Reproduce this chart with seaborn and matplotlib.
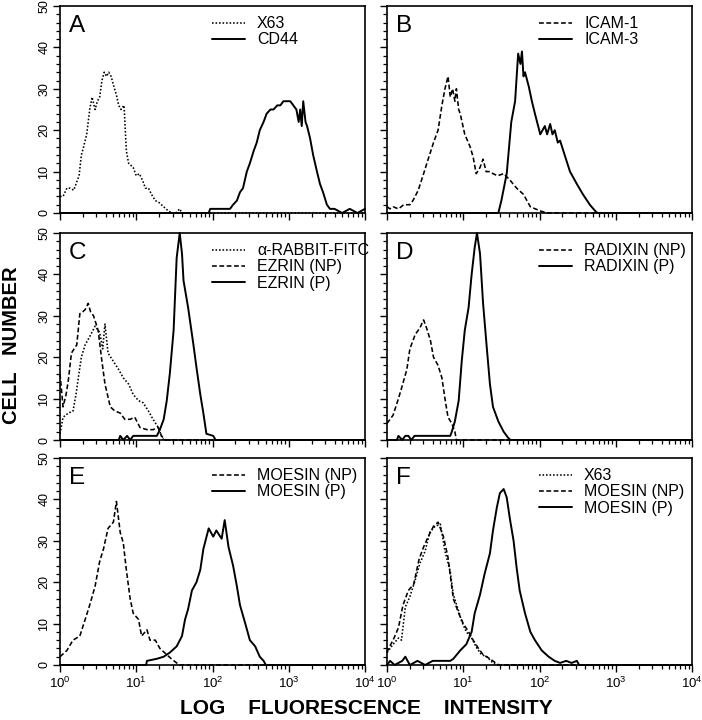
import numpy as np
import pandas as pd
import matplotlib
matplotlib.use("Agg")
import matplotlib.pyplot as plt
import seaborn as sns
from matplotlib.ticker import LogLocator, MultipleLocator, NullFormatter, FixedLocator

# ---------------- data (log10 channel position, cell number) ----------------
panel_letters = ["A", "B", "C", "D", "E", "F"]

a_x63_log = [0, 0.04, 0.09, 0.13, 0.18, 0.22, 0.25, 0.28, 0.31, 0.35, 0.39, 0.42, 0.46, 0.49, 0.52, 0.55,
             0.58, 0.61, 0.64, 0.67, 0.70, 0.74, 0.77, 0.80, 0.84, 0.87, 0.90, 0.93, 0.96, 1.00, 1.04, 1.08,
             1.12, 1.16, 1.20, 1.25, 1.30, 1.36, 1.42, 1.47, 1.52, 1.57, 1.60, 4.0]
a_x63_cnt = [4, 4, 6, 6, 5.5, 7.5, 9, 14, 16, 19, 25, 28, 25, 27, 28, 32, 34, 33, 34, 33, 31, 28.5, 26, 25,
             26, 15, 12, 11.5, 11, 9, 9.5, 8, 6, 6, 4.5, 3, 2.5, 1.5, 0.5, 0, 0, 1, 0, 0]
a_cd44_log = [0, 1.95, 1.97, 2.05, 2.15, 2.23, 2.27, 2.32, 2.36, 2.40, 2.45, 2.49, 2.54, 2.58, 2.62, 2.67,
              2.71, 2.76, 2.80, 2.85, 2.89, 2.93, 2.97, 3.02, 3.06, 3.10, 3.13, 3.15, 3.17, 3.19, 3.22,
              3.24, 3.28, 3.32, 3.37, 3.41, 3.45, 3.50, 3.54, 3.60, 3.70, 3.80, 3.90, 4.0]
a_cd44_cnt = [0, 0, 1, 1, 1, 1, 2, 3, 5, 6, 10, 12, 15, 17, 20, 22, 24, 25, 25, 26, 26, 27, 27, 27, 26, 25,
              22, 25, 21, 27, 22, 21, 18, 14, 10, 7, 5, 2, 1, 1, 0, 1, 0, 1]

b_icam1_log = [0, 0.04, 0.08, 0.15, 0.22, 0.30, 0.34, 0.41, 0.48, 0.54, 0.61, 0.67, 0.72, 0.76, 0.80, 0.83,
               0.86, 0.89, 0.91, 0.94, 0.96, 1.02, 1.09, 1.13, 1.17, 1.22, 1.26, 1.30, 1.35, 1.39, 1.45,
               1.53, 1.61, 1.70, 1.79, 1.88, 2.01, 2.10, 4.0]
b_icam1_cnt = [1.5, 1, 1.5, 1, 2, 2, 3, 5.5, 9.5, 13, 17, 20, 26, 30, 33, 28, 30, 27, 30, 25, 24, 19, 16,
               13.5, 9.5, 11, 13, 10, 10, 9.5, 9, 9.5, 8, 6, 4.5, 1.5, 0.5, 0, 0]
b_icam3_log = [0, 1.46, 1.50, 1.57, 1.63, 1.68, 1.72, 1.75, 1.77, 1.79, 1.81, 1.86, 1.90, 1.94, 2.01, 2.04,
               2.07, 2.10, 2.14, 2.17, 2.20, 2.24, 2.27, 2.33, 2.40, 2.49, 2.57, 2.66, 2.73, 2.76, 4.0]
b_icam3_cnt = [0, 0, 3, 9.5, 22, 27, 38.5, 36, 39, 33, 34, 30.5, 27, 24, 19, 20, 21, 19, 21.5, 19, 20, 17,
               17.5, 14, 10, 7, 4.5, 2, 0.5, 0, 0]

c_fitc_log = [0, 0.04, 0.11, 0.17, 0.21, 0.24, 0.28, 0.33, 0.39, 0.46, 0.52, 0.56, 0.59, 0.63, 0.70, 0.77,
              0.83, 0.90, 0.96, 1.03, 1.09, 1.16, 1.22, 1.29, 1.33, 1.36, 4.0]
c_fitc_cnt = [1.5, 5.5, 6.5, 7, 11, 15, 20, 23, 25, 27.5, 26, 22, 28, 21, 19, 17, 15, 13.5, 11, 9.5, 9,
              7, 5, 3, 1, 0, 0]
c_eznp_log = [0, 0.02, 0.04, 0.08, 0.11, 0.15, 0.22, 0.26, 0.30, 0.33, 0.37, 0.40, 0.44, 0.50, 0.55, 0.59,
              0.66, 0.72, 0.79, 0.85, 0.92, 0.98, 1.05, 1.14, 1.22, 1.29, 1.33, 1.38, 4.0]
c_eznp_cnt = [16, 12, 8, 11, 14.5, 21, 23, 30.5, 31, 31.5, 33, 31, 30, 26.5, 19, 13.5, 8, 7, 6.5, 5, 5,
              5.5, 3, 2.5, 2.5, 3, 1, 0, 0]
c_ezp_log = [0, 0.77, 0.79, 0.83, 0.88, 0.92, 0.96, 1.27, 1.31, 1.36, 1.40, 1.44, 1.49, 1.53, 1.57, 1.60,
             1.62, 1.68, 1.75, 1.79, 1.84, 1.88, 1.92, 2.01, 2.04, 4.0]
c_ezp_cnt = [0, 0, 1, 0, 1, 0, 1, 1, 2.5, 5, 9.5, 16, 26.5, 44, 50, 45, 38.5, 32, 23, 17.5, 11, 6.5, 1.5,
             1, 0, 0]

d_radnp_log = [0, 0.02, 0.08, 0.15, 0.19, 0.26, 0.30, 0.37, 0.43, 0.48, 0.52, 0.57, 0.61, 0.67, 0.72, 0.76,
               0.80, 0.85, 0.89, 0.91, 4.0]
d_radnp_cnt = [4, 4.5, 6, 10, 12.5, 17, 22, 25.5, 27, 29, 27, 24, 20, 18, 15, 10, 5.5, 4, 2, 0, 0]
d_radp_log = [0, 0.13, 0.15, 0.20, 0.24, 0.28, 0.32, 0.36, 0.40, 0.83, 0.85, 0.89, 0.94, 0.98, 1.02, 1.07,
              1.11, 1.15, 1.18, 1.22, 1.26, 1.31, 1.35, 1.39, 1.46, 1.53, 1.59, 1.62, 4.0]
d_radp_cnt = [0, 0, 1, 0, 1, 1, 0, 1, 1, 1, 2, 4.5, 9.5, 19, 26.5, 32, 40, 46.5, 50, 45, 33, 22, 13.5, 8,
              4.5, 2, 0.5, 0, 0]

e_moenp_log = [0, 0.09, 0.17, 0.26, 0.33, 0.39, 0.46, 0.52, 0.57, 0.63, 0.70, 0.74, 0.79, 0.83, 0.87, 0.92,
               0.96, 1.03, 1.07, 1.14, 1.18, 1.25, 1.31, 1.40, 1.46, 1.53, 1.57, 4.0]
e_moenp_cnt = [2, 3.5, 6, 7, 11, 14.5, 19, 25, 28, 33, 34.5, 39.5, 32, 29.5, 23, 16, 12.5, 11, 7, 8.5,
               6, 6, 4, 2.5, 1.5, 0.5, 0, 0]
e_moep_log = [0, 1.13, 1.14, 1.27, 1.36, 1.44, 1.53, 1.60, 1.64, 1.68, 1.73, 1.79, 1.84, 1.88, 1.95, 2.01,
              2.05, 2.12, 2.16, 2.21, 2.27, 2.32, 2.36, 2.43, 2.49, 2.56, 2.62, 2.67, 2.70, 4.0]
e_moep_cnt = [0, 0, 1, 1.5, 2, 3, 4.5, 7, 11, 13.5, 18, 20, 23, 28, 33, 31, 32.5, 30.5, 35, 28.5, 24, 19,
              14.5, 10, 6, 4.5, 2, 1, 0, 0]

f_x63_log = [0, 0.02, 0.08, 0.15, 0.19, 0.24, 0.30, 0.37, 0.43, 0.50, 0.56, 0.63, 0.70, 0.76, 0.83, 0.87,
             0.94, 0.98, 1.04, 1.11, 1.18, 1.24, 1.31, 1.39, 1.43, 4.0]
f_x63_cnt = [3, 3.5, 5, 6.5, 6, 14, 16.5, 20.5, 24.5, 27.5, 32, 33.5, 34, 27.5, 22.5, 17, 13, 10.5, 8,
             6.5, 4, 2.5, 2, 0.5, 0, 0]
f_moenp_log = [0, 0.02, 0.08, 0.15, 0.21, 0.28, 0.35, 0.42, 0.48, 0.54, 0.61, 0.67, 0.74, 0.80, 0.87, 0.94,
               1.00, 1.07, 1.13, 1.20, 1.26, 1.35, 1.44, 1.47, 4.0]
f_moenp_cnt = [3, 4, 6, 9, 14.5, 18, 19.5, 25.5, 28.5, 31, 33.5, 34.5, 31, 26, 16, 12.5, 10, 8, 6, 4,
               2.5, 1.5, 0.3, 0, 0]
f_moep_log = [0, 0.04, 0.10, 0.20, 0.24, 0.30, 0.40, 0.50, 0.60, 0.70, 0.83, 0.87, 0.96, 1.04, 1.11, 1.15,
              1.22, 1.28, 1.35, 1.39, 1.44, 1.48, 1.53, 1.57, 1.61, 1.66, 1.70, 1.74, 1.81, 1.88, 1.94,
              2.03, 2.12, 2.20, 2.27, 2.35, 2.42, 2.49, 2.52, 4.0]
f_moep_cnt = [0, 1, 0, 1, 2, 0, 1, 0, 1, 1, 1, 1.5, 3.5, 5, 8, 12.5, 17, 22, 27, 32.5, 38, 41.5, 42.5,
              40.5, 35.5, 30, 23.5, 18, 12.5, 8, 6, 3.5, 2, 1, 0.5, 1, 0.5, 1, 0, 0]

# ---------------- figure ----------------
sns.set_theme(style="ticks")
plt.rcParams["font.family"] = ["Liberation Sans", "DejaVu Sans"]
plt.rcParams["mathtext.fontset"] = "custom"
plt.rcParams["mathtext.rm"] = "Liberation Sans"
plt.rcParams["axes.linewidth"] = 1.2

W, H = 702, 720
fig = plt.figure(figsize=(W / 100, H / 100), dpi=100)

col_left = [60, 387]
row_top = [6, 233, 458]
ax_w, ax_h = 305, 207

DOT = (0, (1, 1.2))
DASH = (0, (3, 1.6))
SOLID = "-"

panels = [
    [("X63", a_x63_log, a_x63_cnt, DOT), ("CD44", a_cd44_log, a_cd44_cnt, SOLID)],
    [("ICAM-1", b_icam1_log, b_icam1_cnt, DASH), ("ICAM-3", b_icam3_log, b_icam3_cnt, SOLID)],
    [("α-RABBIT-FITC", c_fitc_log, c_fitc_cnt, DOT), ("EZRIN (NP)", c_eznp_log, c_eznp_cnt, DASH),
     ("EZRIN (P)", c_ezp_log, c_ezp_cnt, SOLID)],
    [("RADIXIN (NP)", d_radnp_log, d_radnp_cnt, DASH), ("RADIXIN (P)", d_radp_log, d_radp_cnt, SOLID)],
    [("MOESIN (NP)", e_moenp_log, e_moenp_cnt, DASH), ("MOESIN (P)", e_moep_log, e_moep_cnt, SOLID)],
    [("X63", f_x63_log, f_x63_cnt, DOT), ("MOESIN (NP)", f_moenp_log, f_moenp_cnt, DASH),
     ("MOESIN (P)", f_moep_log, f_moep_cnt, SOLID)],
]

for i, series in enumerate(panels):
    r, c = divmod(i, 2)
    left = col_left[c] / W
    bottom = (H - row_top[r] - ax_h) / H
    ax = fig.add_axes([left, bottom, ax_w / W, ax_h / H])
    for label, lg, cnt, ls in series:
        df = pd.DataFrame({"intensity": np.power(10.0, np.array(lg)), "count": cnt})
        lw = 1.4 if ls == SOLID else 1.15
        sns.lineplot(data=df, x="intensity", y="count", ax=ax, color="black", linestyle=ls,
                     linewidth=lw, label=label, sort=False, estimator=None, clip_on=False)
    ax.set_xscale("log")
    ax.set_xlim(1, 1e4)
    ax.set_ylim(0, 50)
    ax.set_xlabel("")
    ax.set_ylabel("")
    for s in ax.spines.values():
        s.set_visible(True)
        s.set_color("black")
        s.set_linewidth(1.2)
    ax.xaxis.set_major_locator(FixedLocator([1, 10, 100, 1000, 10000]))
    ax.xaxis.set_minor_locator(LogLocator(base=10, subs=np.arange(2, 10), numticks=20))
    ax.xaxis.set_minor_formatter(NullFormatter())
    ax.yaxis.set_major_locator(MultipleLocator(10))
    ax.yaxis.set_minor_locator(MultipleLocator(2))
    ax.tick_params(which="major", direction="out", length=5, width=1, color="black", pad=3)
    ax.tick_params(which="minor", direction="out", length=3, width=0.9, color="black")
    ax.tick_params(axis="x", labelsize=9.5, labelcolor="black", pad=3)
    ax.tick_params(axis="y", labelsize=9, labelcolor="black", labelrotation=90, pad=2)
    for t in ax.get_yticklabels():
        t.set_va("center")
    if c == 1:
        ax.tick_params(axis="y", labelleft=False)
    if r < 2:
        ax.tick_params(axis="x", labelbottom=False)
    ax.text(0.03, 0.955, panel_letters[i], transform=ax.transAxes, fontsize=17.5,
            ha="left", va="top", color="black")
    leg = ax.legend(loc="upper left", bbox_to_anchor=(0.463, 1.005), frameon=False, fontsize=11.5,
                    handlelength=2.05, handletextpad=0.75, labelspacing=0.08, borderaxespad=0.3)
    for t in leg.get_texts():
        t.set_color("black")
    ax.set_facecolor("white")

fig.text(12 / W, 1 - 345 / H, "CELL   NUMBER", rotation=90, fontsize=14.5, fontweight="bold",
         ha="center", va="center", color="black")
fig.text(366 / W, 1 - 709 / H, "LOG    FLUORESCENCE    INTENSITY", fontsize=15, fontweight="bold",
         ha="center", va="center", color="black")

fig.savefig("out.png", dpi=100, facecolor="white")
